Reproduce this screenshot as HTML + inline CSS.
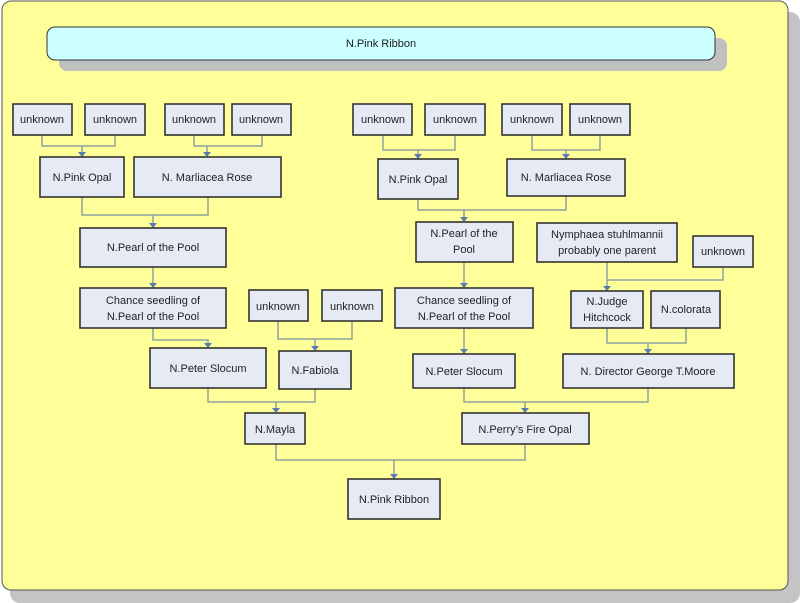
<!DOCTYPE html>
<html><head><meta charset="utf-8"><style>
body{margin:0;width:800px;height:603px;overflow:hidden;background:#fff}
svg{display:block}
text{font-family:"Liberation Sans","Noto Sans CJK JP",sans-serif;font-size:11px;fill:#222;text-anchor:middle}
.b{fill:#e6eaf5;stroke:#333;stroke-width:1.6}
.l{fill:none;stroke:#8fa39e;stroke-width:1.5}
.a{fill:#5a7bb0}
</style></head><body>
<svg width="800" height="603" viewBox="0 0 800 603">
<rect x="10" y="12" width="790" height="591" rx="10" fill="#c4c4c4"/>
<rect x="2" y="1" width="786" height="589" rx="9" fill="#ffff99" stroke="#555" stroke-width="1"/>
<rect x="59" y="38" width="668" height="33" rx="8" fill="#c0c0c0"/>
<rect x="47" y="27" width="668" height="33" rx="8" fill="#ccffff" stroke="#333" stroke-width="1"/>
<text x="381" y="47">N.Pink Ribbon</text>

<g class="l">
<path d="M42 135V146H115V135M82 146V153"/>
<path d="M194 135V146H262V135M207 146V153"/>
<path d="M82 197V215H208V197M153 215V224"/>
<path d="M153 267V284"/>
<path d="M153 328V340H208V344"/>
<path d="M278 321V339H352V321M315 339V347"/>
<path d="M208 388V402H315V389M276 402V409"/>
<path d="M276 444V460H525V444M394 460V475"/>
<path d="M383 135V150H455V135M418 150V155"/>
<path d="M532 135V150H600V135M566 150V155"/>
<path d="M418 199V210H566V196M464 210V218"/>
<path d="M464 262V284"/>
<path d="M464 328V350"/>
<path d="M607 262V287M723 267V280H607"/>
<path d="M607 328V343H686V328M648 343V350"/>
<path d="M464 388V402H648V388M525 402V409"/>
</g>
<g class="a">
<path d="M78 152h8l-4 5z"/><path d="M203 152h8l-4 5z"/><path d="M149 223h8l-4 5z"/>
<path d="M149 283h8l-4 5z"/><path d="M204 343h8l-4 5z"/><path d="M311 346h8l-4 5z"/>
<path d="M272 408h8l-4 5z"/><path d="M390 474h8l-4 5z"/>
<path d="M414 154h8l-4 5z"/><path d="M562 154h8l-4 5z"/><path d="M460 217h8l-4 5z"/>
<path d="M460 283h8l-4 5z"/><path d="M460 349h8l-4 5z"/><path d="M603 286h8l-4 5z"/>
<path d="M644 349h8l-4 5z"/><path d="M521 408h8l-4 5z"/>
</g>

<g>
<rect class="b" x="13" y="104" width="59" height="31"/><text x="42" y="123">unknown</text>
<rect class="b" x="85" y="104" width="60" height="31"/><text x="115" y="123">unknown</text>
<rect class="b" x="165" y="104" width="59" height="31"/><text x="194" y="123">unknown</text>
<rect class="b" x="232" y="104" width="59" height="31"/><text x="261" y="123">unknown</text>
<rect class="b" x="40" y="157" width="84" height="40"/><text x="82" y="181">N.Pink Opal</text>
<rect class="b" x="134" y="157" width="147" height="40"/><text x="207" y="181">N. Marliacea Rose</text>
<rect class="b" x="80" y="228" width="146" height="39"/><text x="153" y="251">N.Pearl of the Pool</text>
<rect class="b" x="80" y="288" width="146" height="40"/><text x="153" y="304">Chance seedling of</text><text x="153" y="320">N.Pearl of the Pool</text>
<rect class="b" x="249" y="290" width="59" height="31"/><text x="278" y="310">unknown</text>
<rect class="b" x="322" y="290" width="60" height="31"/><text x="352" y="310">unknown</text>
<rect class="b" x="150" y="348" width="116" height="40"/><text x="208" y="372">N.Peter Slocum</text>
<rect class="b" x="279" y="351" width="72" height="38"/><text x="315" y="374">N.Fabiola</text>
<rect class="b" x="245" y="413" width="60" height="31"/><text x="275" y="433">N.Mayla</text>
<rect class="b" x="348" y="479" width="92" height="40"/><text x="394" y="503">N.Pink Ribbon</text>

<rect class="b" x="353" y="104" width="59" height="31"/><text x="383" y="123">unknown</text>
<rect class="b" x="425" y="104" width="60" height="31"/><text x="455" y="123">unknown</text>
<rect class="b" x="502" y="104" width="60" height="31"/><text x="532" y="123">unknown</text>
<rect class="b" x="570" y="104" width="60" height="31"/><text x="600" y="123">unknown</text>
<rect class="b" x="378" y="159" width="80" height="40"/><text x="418" y="183">N.Pink Opal</text>
<rect class="b" x="507" y="159" width="118" height="37"/><text x="566" y="181">N. Marliacea Rose</text>
<rect class="b" x="416" y="222" width="97" height="40"/><text x="464" y="237">N.Pearl of the</text><text x="464" y="253">Pool</text>
<rect class="b" x="537" y="223" width="140" height="39"/><text x="607" y="238">Nymphaea stuhlmannii</text><text x="607" y="254">probably one parent</text>
<rect class="b" x="693" y="236" width="60" height="31"/><text x="723" y="255">unknown</text>
<rect class="b" x="395" y="288" width="138" height="40"/><text x="464" y="304">Chance seedling of</text><text x="464" y="320">N.Pearl of the Pool</text>
<rect class="b" x="571" y="291" width="72" height="37"/><text x="607" y="305">N.Judge</text><text x="607" y="321">Hitchcock</text>
<rect class="b" x="651" y="291" width="69" height="37"/><text x="686" y="313">N.colorata</text>
<rect class="b" x="413" y="354" width="102" height="34"/><text x="464" y="375">N.Peter Slocum</text>
<rect class="b" x="563" y="354" width="171" height="34"/><text x="648" y="375">N. Director George T.Moore</text>
<rect class="b" x="462" y="413" width="127" height="31"/><text x="525" y="433">N.Perry’s Fire Opal</text>
</g>
</svg>
</body></html>
